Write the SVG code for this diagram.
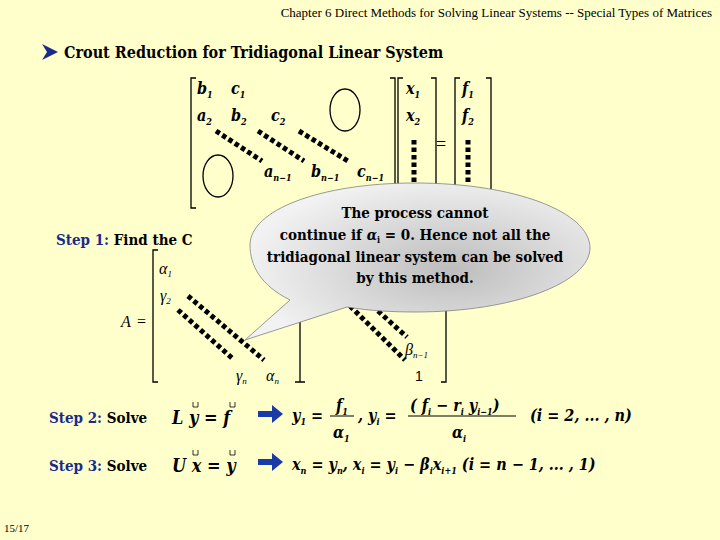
<svg xmlns="http://www.w3.org/2000/svg" width="720" height="540" viewBox="0 0 720 540" font-family="Liberation Serif, serif">
<defs>
<style>
.t{font-family:"DejaVu Serif Condensed","DejaVu Serif",serif;font-weight:bold;font-size:15px;fill:#000}
.m{font-family:"DejaVu Serif Condensed","DejaVu Serif",serif;font-weight:bold;font-style:italic;fill:#000}
.s{font-size:9px}
.b{fill:none;stroke:#000;stroke-width:1.3}
.d{fill:none;stroke:#000;stroke-width:5;stroke-dasharray:4.5 3}
.blue{fill:#1a2a8c}
</style>
<radialGradient id="g" cx="0.6" cy="0.55" r="0.6"><stop offset="0" stop-color="#bdbdbd"/><stop offset="1" stop-color="#f2f2f2"/></radialGradient>
</defs>
<rect width="720" height="540" fill="#ffffcc"/>
<text x="712" y="17" text-anchor="end" font-size="13">Chapter 6  Direct Methods for Solving Linear Systems -- Special Types of Matrices</text>
<polygon points="42,44 58,52 42,60 47,52" fill="#1a2a8c"/>
<text x="64" y="58" class="t" style="font-size:16px">Crout Reduction for Tridiagonal Linear System</text>
<path class="b" d="M196,78 h-5 v130 h5 M390,78 h5 v130 h-5 M403,78 h-5 v130 h5 M431,78 h5 v130 h-5 M460,78 h-5 v130 h5 M486,78 h5 v130 h-5"/>
<g class="m" font-size="16">
<text x="197" y="94">b<tspan class="s" dy="4">1</tspan></text>
<text x="231" y="94">c<tspan class="s" dy="4">1</tspan></text>
<text x="197" y="121">a<tspan class="s" dy="4">2</tspan></text>
<text x="231" y="121">b<tspan class="s" dy="4">2</tspan></text>
<text x="271" y="121">c<tspan class="s" dy="4">2</tspan></text>
<text x="264" y="177">a<tspan class="s" dy="4">n−1</tspan></text>
<text x="311" y="177">b<tspan class="s" dy="4">n−1</tspan></text>
<text x="357" y="177">c<tspan class="s" dy="4">n−1</tspan></text>
<text x="406" y="94">x<tspan class="s" dy="4">1</tspan></text>
<text x="406" y="121">x<tspan class="s" dy="4">2</tspan></text>
<text x="462" y="94">f<tspan class="s" dy="4">1</tspan></text>
<text x="462" y="121">f<tspan class="s" dy="4">2</tspan></text>
</g>
<text x="436" y="150" font-size="18">=</text>
<path class="d" d="M216,131 L262,161 M258,131 L304,161 M299,131 L348,161 M414,140 V185 M468,140 V185"/>
<ellipse class="b" cx="345" cy="110" rx="15" ry="21" stroke-width="2"/>
<ellipse class="b" cx="218" cy="176" rx="15" ry="21" stroke-width="2"/>
<text x="56" y="245" class="t"><tspan class="blue">Step 1: </tspan>Find the C</text>
<text x="121" y="327" font-style="italic" font-size="16">A</text>
<text x="137" y="327" font-size="16">=</text>
<path class="b" d="M158,250 h-5 v132 h5 M295,250 h5 v132 h-5 M305,250 h-5 v132 h5 M441,250 h5 v132 h-5"/>
<g font-style="italic" font-size="16">
<text x="159" y="274">α<tspan class="s" dy="3">1</tspan></text>
<text x="160" y="301">γ<tspan class="s" dy="3">2</tspan></text>
<text x="236" y="381">γ<tspan class="s" dy="3">n</tspan></text>
<text x="266" y="381">α<tspan class="s" dy="3">n</tspan></text>
<text x="405" y="355">β<tspan class="s" dy="3">n−1</tspan></text>
</g>
<text x="415" y="381" font-family="Liberation Sans, sans-serif" font-size="14">1</text>
<path class="d" d="M188,296 L264,360 M178,310 L232,358 M350,306 L405,360 M378,311 L407,337"/>
<path d="M415,183 C320,183 250,210 250,245 C250,265 260,285 290,300 L245,340 L347,307 C370,311 395,312 415,312 C515,312 590,282 590,248 C590,212 515,183 415,183 Z" fill="url(#g)" stroke="#808080" stroke-width="0.8"/>
<g class="t" text-anchor="middle">
<text x="415" y="218">The process cannot</text>
<text x="415" y="240">continue if <tspan font-style="italic">α</tspan><tspan font-size="9" dy="3">i</tspan><tspan dy="-3"> = 0.  Hence not all the</tspan></text>
<text x="415" y="262">tridiagonal linear system can be solved</text>
<text x="415" y="283">by this method.</text>
</g>
<text x="49" y="423" class="t"><tspan class="blue">Step 2: </tspan>Solve</text>
<text x="49" y="471" class="t"><tspan class="blue">Step 3: </tspan>Solve</text>
<g class="m" font-size="18">
<text x="172" y="424">L y = f</text>
<text x="172" y="472">U x = y</text>
</g>
<path d="M193,402 v5 h5 v-5 M230,402 v5 h5 v-5 M193,450 v5 h5 v-5 M230,450 v5 h5 v-5" fill="none" stroke="#000" stroke-width="0.8"/>
<path d="M258,411 h14 v-6 l11,9 l-11,9 v-6 h-14z M258,459 h14 v-6 l11,9 l-11,9 v-6 h-14z" fill="#1a3aa8"/>
<g class="m" font-size="16">
<text x="292" y="421">y<tspan class="s" dy="4">1</tspan><tspan dy="-4"> =</tspan></text>
<text x="336" y="411">f<tspan class="s" dy="4">1</tspan></text>
<text x="333" y="438">α<tspan class="s" dy="4">1</tspan></text>
<text x="358" y="421">, y<tspan class="s" dy="4">i</tspan><tspan dy="-4"> =</tspan></text>
<text x="410" y="411">( f<tspan class="s" dy="4">i</tspan><tspan dy="-4"> − r</tspan><tspan class="s" dy="4">i</tspan><tspan dy="-4"> y</tspan><tspan class="s" dy="4">i−1</tspan><tspan dy="-4">)</tspan></text>
<text x="452" y="438">α<tspan class="s" dy="4">i</tspan></text>
<text x="530" y="421">(i = 2, ... , n)</text>
<text x="292" y="470">x<tspan class="s" dy="4">n</tspan><tspan dy="-4"> = y</tspan><tspan class="s" dy="4">n</tspan><tspan dy="-4">,  x</tspan><tspan class="s" dy="4">i</tspan><tspan dy="-4"> = y</tspan><tspan class="s" dy="4">i</tspan><tspan dy="-4"> − β</tspan><tspan class="s" dy="4">i</tspan><tspan dy="-4">x</tspan><tspan class="s" dy="4">i+1</tspan><tspan dy="-4">  (i = n − 1, ... , 1)</tspan></text>
</g>
<path d="M330,416 h24 M408,416 h108" stroke="#000" stroke-width="1.2"/>
<text x="4" y="532" font-size="11">15/17</text>
</svg>
